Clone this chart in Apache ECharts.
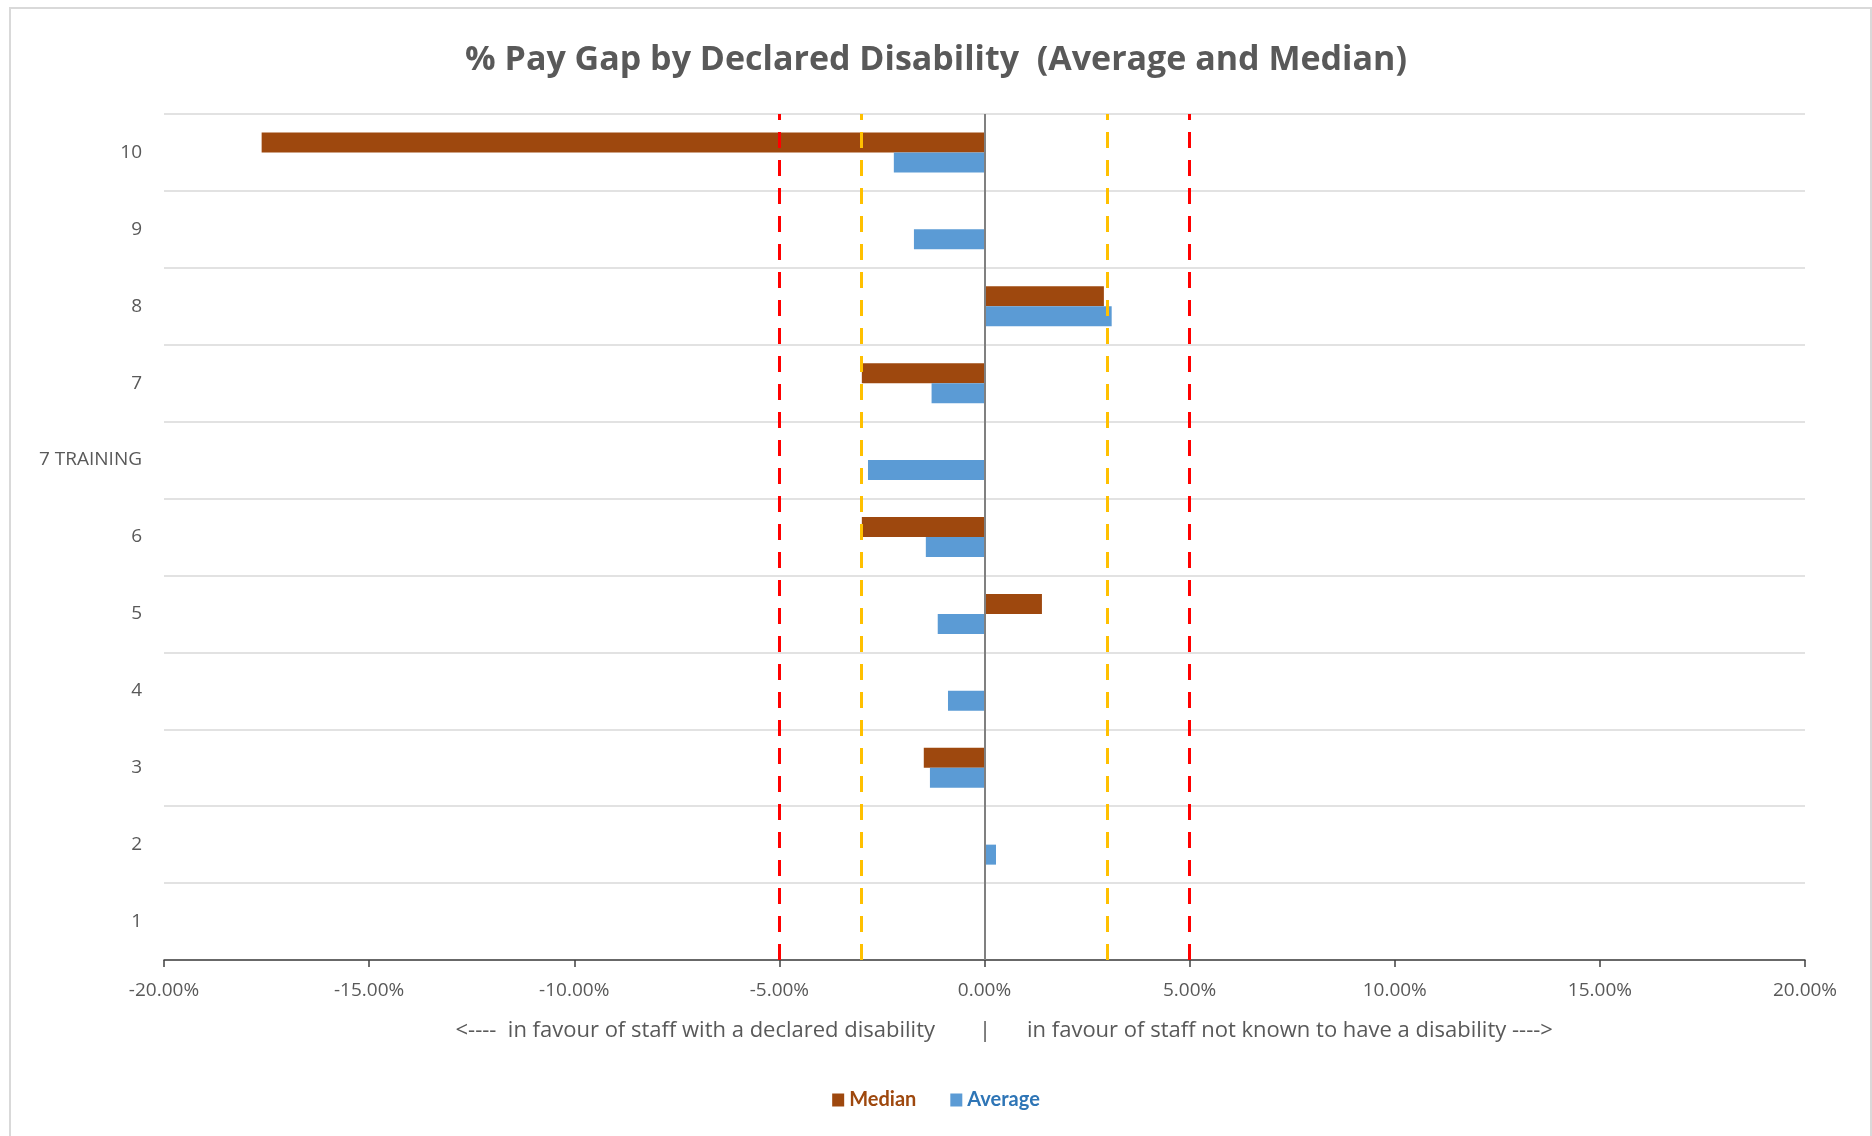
<!DOCTYPE html>
<html>
<head>
<meta charset="utf-8">
<script src="https://cdn.jsdelivr.net/npm/echarts@6/dist/echarts.min.js"></script>
<style>
  html, body { margin: 0; padding: 0; background: #fff; }
  #chart { width: 1872px; height: 1136px; }
</style>
</head>
<body>
<div id="chart"></div>
<script>
// Pay grades, bottom to top
const categories = ['1', '2', '3', '4', '5', '6', '7 TRAINING', '7', '8', '9', '10'];
// % pay gap (median and average), null where no value is reported
const medianGap  = [null, null, -1.48, null, 1.40, -2.99, null, -2.99, 2.91, null, -17.62];
const averageGap = [null, 0.28, -1.33, -0.89, -1.14, -1.43, -2.84, -1.29, 3.10, -1.72, -2.21];
// Threshold guide lines (%)
const outerThresholds = [-5, 5];
const innerThresholds = [-3, 3];
const xTicks = { min: -20, max: 20, step: 5 };
// Direction captions under the x axis
const captionLeft = '<----  in favour of staff with a declared disability';
const captionMid = '|';
const captionRight = 'in favour of staff not known to have a disability ---->';

const FONT = '"Open Sans", Lato, sans-serif';
const GREY = '#595959';
const MEDIAN_COLOR = '#9E480E';
const AVERAGE_COLOR = '#5B9BD5';

const chart = echarts.init(document.getElementById('chart'), null, { renderer: 'canvas' });

const guideLines = [
  ...outerThresholds.map(v => ({ xAxis: v, lineStyle: { color: '#FF0000', width: 3, type: [16, 12] } })),
  ...innerThresholds.map(v => ({ xAxis: v, lineStyle: { color: '#FFC000', width: 3, type: [16, 12] } })),
  { xAxis: 0, lineStyle: { color: '#808080', width: 2, type: 'solid' } }
];

const captionStyle = { fontFamily: FONT, fontSize: 22, fill: GREY, textVerticalAlign: 'middle' };

chart.setOption({
  animation: false,
  backgroundColor: '#ffffff',
  textStyle: { fontFamily: FONT },
  graphic: [
    {
      type: 'rect',
      shape: { x: 10, y: 8, width: 1861, height: 1150 },
      style: { fill: 'none', stroke: '#D9D9D9', lineWidth: 2 },
      silent: true
    },
    { type: 'text', x: 935, y: 1031, silent: true,
      style: Object.assign({ text: captionLeft, textAlign: 'right' }, captionStyle) },
    { type: 'text', x: 985, y: 1031, silent: true,
      style: Object.assign({ text: captionMid, textAlign: 'center' }, captionStyle) },
    { type: 'text', x: 1027, y: 1031, silent: true,
      style: Object.assign({ text: captionRight, textAlign: 'left' }, captionStyle) }
  ],
  title: {
    text: '% Pay Gap by Declared Disability  (Average and Median)',
    left: 'center',
    top: 38,
    textStyle: { fontFamily: FONT, fontSize: 34, fontWeight: 'bold', color: GREY }
  },
  legend: {
    bottom: 21,
    left: 'center',
    itemWidth: 12,
    itemHeight: 13,
    itemGap: 34,
    icon: 'rect',
    data: [
      { name: 'Median', textStyle: { color: MEDIAN_COLOR } },
      { name: 'Average', textStyle: { color: '#2E75B6' } }
    ],
    textStyle: { fontFamily: 'Lato, sans-serif', fontSize: 20, fontWeight: 'bold' }
  },
  grid: { left: 164, right: 67, top: 114, bottom: 176, containLabel: false },
  xAxis: {
    type: 'value',
    min: xTicks.min,
    max: xTicks.max,
    interval: xTicks.step,
    axisLine: { show: true, lineStyle: { color: '#404040', width: 1.5 } },
    axisTick: { show: true, length: 7, lineStyle: { color: '#404040', width: 1.5 } },
    splitLine: { show: false },
    axisLabel: {
      margin: 21,
      fontFamily: FONT, fontSize: 19, color: GREY,
      formatter: v => v.toFixed(2) + '%'
    }
  },
  yAxis: {
    type: 'category',
    data: categories,
    axisLine: { show: false },
    axisTick: { show: false },
    splitLine: { show: true, lineStyle: { color: '#D9D9D9', width: 1.5 } },
    axisLabel: { margin: 22, fontFamily: FONT, fontSize: 19, color: GREY }
  },
  series: [
    {
      name: 'Median',
      type: 'bar',
      data: medianGap,
      barWidth: 20,
      barGap: '0%',
      itemStyle: { color: MEDIAN_COLOR },
      emphasis: { disabled: true }
    },
    {
      name: 'Average',
      type: 'bar',
      data: averageGap,
      barWidth: 20,
      barGap: '0%',
      itemStyle: { color: AVERAGE_COLOR },
      emphasis: { disabled: true },
      markLine: {
        silent: true,
        symbol: 'none',
        label: { show: false },
        data: guideLines
      }
    }
  ]
});
</script>
</body>
</html>
